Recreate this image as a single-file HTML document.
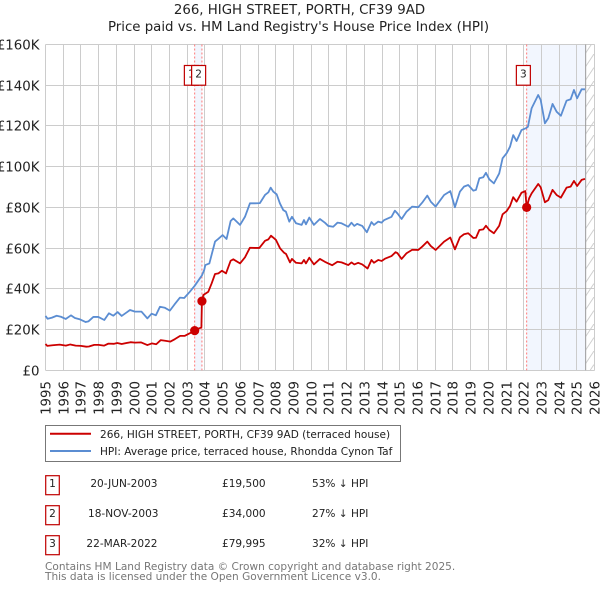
<!DOCTYPE html>
<html lang="en">
<head>
<meta charset="utf-8">
<title>266, HIGH STREET, PORTH, CF39 9AD</title>
<style>
html,body{margin:0;padding:0;background:#fff;}
body{width:600px;height:590px;overflow:hidden;}
svg{display:block;font-family:"DejaVu Sans","Liberation Sans",sans-serif;}
</style>
</head>
<body>
<svg id="chart" width="600" height="590" viewBox="0 0 600 590" xmlns="http://www.w3.org/2000/svg">
  <defs>
    <pattern id="hatch" patternUnits="userSpaceOnUse" width="9" height="13.5">
      <line x1="0" y1="13.5" x2="9" y2="0" stroke="#cfcfcf" stroke-width="1"/>
    </pattern>
  </defs>
  <text x="299.5" y="14" text-anchor="middle" font-size="13.33" fill="#222">266, HIGH STREET, PORTH, CF39 9AD</text>
  <text x="298.5" y="31" text-anchor="middle" font-size="13.33" fill="#222">Price paid vs. HM Land Registry's House Price Index (HPI)</text>
  <g id="bands"></g>
  <g id="grid"></g>
  <g id="yaxis"></g>
  <g id="xaxis"></g>
  <g id="series"></g>
  <g id="sales"></g>

  <rect x="45.5" y="425.5" width="355" height="36" fill="#fff" stroke="#777" stroke-width="1"/>
  <line x1="50" x2="91" y1="433.8" y2="433.8" stroke="#cc0000" stroke-width="2"/>
  <line x1="50" x2="91" y1="451" y2="451" stroke="#5b8dd2" stroke-width="2"/>
  <text x="100" y="438" font-size="10.55" fill="#222">266, HIGH STREET, PORTH, CF39 9AD (terraced house)</text>
  <text x="100" y="455" font-size="10.55" fill="#222">HPI: Average price, terraced house, Rhondda Cynon Taf</text>

  <g>
    <rect x="45.7" y="475.7" width="13.6" height="19" fill="#fff" stroke="#c00000" stroke-width="1.2"/>
    <text x="52.5" y="487" text-anchor="middle" font-size="10.55" fill="#222">1</text>
    <text x="157.5" y="487" text-anchor="end" font-size="10.55" fill="#222">20-JUN-2003</text>
    <text x="222" y="487" font-size="10.55" fill="#222">£19,500</text>
    <text x="312" y="487" font-size="10.55" fill="#222">53% ↓ HPI</text>
  </g>
  <g>
    <rect x="45.7" y="505.7" width="13.6" height="19" fill="#fff" stroke="#c00000" stroke-width="1.2"/>
    <text x="52.5" y="517" text-anchor="middle" font-size="10.55" fill="#222">2</text>
    <text x="158.5" y="517" text-anchor="end" font-size="10.55" fill="#222">18-NOV-2003</text>
    <text x="222" y="517" font-size="10.55" fill="#222">£34,000</text>
    <text x="312" y="517" font-size="10.55" fill="#222">27% ↓ HPI</text>
  </g>
  <g>
    <rect x="45.7" y="535.7" width="13.6" height="19" fill="#fff" stroke="#c00000" stroke-width="1.2"/>
    <text x="52.5" y="547" text-anchor="middle" font-size="10.55" fill="#222">3</text>
    <text x="157.5" y="547" text-anchor="end" font-size="10.55" fill="#222">22-MAR-2022</text>
    <text x="222" y="547" font-size="10.55" fill="#222">£79,995</text>
    <text x="312" y="547" font-size="10.55" fill="#222">32% ↓ HPI</text>
  </g>

  <text x="45" y="570" font-size="10.55" fill="#777">Contains HM Land Registry data © Crown copyright and database right 2025.</text>
  <text x="45" y="580" font-size="10.55" fill="#777">This data is licensed under the Open Government Licence v3.0.</text>
</svg>

<script>
const yearTicks = [1995,1996,1997,1998,1999,2000,2001,2002,2003,2004,2005,2006,2007,2008,2009,2010,2011,2012,2013,2014,2015,2016,2017,2018,2019,2020,2021,2022,2023,2024,2025,2026];
const priceTicks = [0,20,40,60,80,100,120,140,160];
const priceTickLabels = ['£0','£20K','£40K','£60K','£80K','£100K','£120K','£140K','£160K'];

const hpiDates = [1995,1995.12,1995.35,1995.63,1995.87,1996.14,1996.44,1996.66,1996.95,1997.27,1997.42,1997.7,1997.98,1998.32,1998.58,1998.83,1999.07,1999.3,1999.77,2000.05,2000.42,2000.75,2000.99,2001.23,2001.46,2001.74,2002.02,2002.27,2002.59,2002.83,2003.15,2003.42,2003.66,2003.83,2003.96,2004.02,2004.25,2004.57,2004.75,2005,2005.22,2005.45,2005.6,2005.98,2006.26,2006.54,2006.82,2007.1,2007.39,2007.58,2007.71,2007.86,2008.05,2008.23,2008.42,2008.57,2008.76,2008.91,2009.14,2009.46,2009.59,2009.7,2009.89,2010.15,2010.49,2010.77,2010.96,2011.24,2011.48,2011.71,2012.09,2012.27,2012.43,2012.59,2012.88,2013.14,2013.4,2013.54,2013.78,2013.97,2014.12,2014.53,2014.72,2014.87,2015.1,2015.38,2015.7,2016.04,2016.26,2016.55,2016.75,2017.02,2017.5,2017.85,2018.11,2018.39,2018.62,2018.86,2019.15,2019.3,2019.49,2019.71,2019.86,2020.05,2020.31,2020.61,2020.8,2021.03,2021.22,2021.4,2021.59,2021.87,2022.12,2022.23,2022.44,2022.81,2022.95,2023.19,2023.38,2023.62,2023.85,2024.09,2024.41,2024.64,2024.83,2025.01,2025.26,2025.45];
const hpiValues = [26.7,25.3,25.8,26.8,26.3,25.2,27,25.7,25,23.7,24,26.2,26.2,24.7,28,26.8,28.6,26.7,29.6,28.8,28.8,25.5,27.8,27,31.2,30.7,29.3,32.2,35.7,35.5,38.6,41.5,44.5,46.6,49.3,51.7,52.5,63.2,64.5,66.4,64.5,73.3,74.6,71.4,75.4,82,82,82.1,86.1,87.4,89.7,87.7,86.4,82,78.7,77.9,73,75.4,72.2,71.4,73.8,71.7,75,71.4,74.3,72.5,70.9,70.5,72.5,72.2,70.5,72.5,70.9,71.9,70.9,67.8,72.8,71.4,73,72.5,73.8,75.4,78.4,77,74.3,77.9,80.4,80.1,82.3,85.8,82.8,80.4,86.1,88,80.1,87.7,90.2,91,88.2,88.6,94.3,94.8,97,93.8,91.8,96.7,104.1,106.6,109.8,115.5,112.6,118,118.9,119.6,128.7,135.2,132.8,121.3,123.8,130.8,127,125,132.4,133.1,137.7,133.6,138,138];

const paidDates = [1995,1995.1,1995.4,1995.8,1996.15,1996.4,1996.7,1997,1997.3,1997.45,1997.75,1998,1998.3,1998.55,1998.85,1999.05,1999.3,1999.8,2000.05,2000.4,2000.75,2001,2001.25,2001.5,2001.75,2002.05,2002.3,2002.6,2002.85,2003.15,2003.42,2003.6,2003.8,2003.83,2003.91,2004.19,2004.38,2004.57,2004.76,2004.96,2005.19,2005.45,2005.6,2005.98,2006.26,2006.54,2006.82,2007.07,2007.39,2007.58,2007.73,2008.01,2008.24,2008.46,2008.58,2008.8,2008.91,2009.14,2009.46,2009.59,2009.7,2009.89,2010.15,2010.49,2010.77,2010.96,2011.18,2011.48,2011.71,2012.09,2012.27,2012.43,2012.65,2012.88,2013.18,2013.4,2013.54,2013.78,2013.97,2014.16,2014.53,2014.76,2014.87,2015.1,2015.38,2015.7,2016.04,2016.26,2016.55,2016.75,2017.02,2017.5,2017.85,2018.11,2018.39,2018.62,2018.86,2019.15,2019.3,2019.49,2019.71,2019.86,2020.05,2020.31,2020.61,2020.8,2021.03,2021.22,2021.4,2021.59,2021.87,2022.08,2022.16,2022.3,2022.44,2022.81,2022.95,2023.19,2023.38,2023.62,2023.85,2024.09,2024.41,2024.64,2024.83,2025.01,2025.26,2025.45];
const paidValues = [12.9,12,12.3,12.6,12.1,12.7,12.1,12,11.6,11.7,12.5,12.5,12.1,13.1,13,13.4,12.9,13.8,13.6,13.7,12.4,13.2,12.8,14.8,14.5,14.1,15.3,16.9,16.9,18.2,19.5,20.4,21,34,37,38.6,42.7,47.3,47.6,48.9,47.6,53.8,54.5,52.5,55.5,60.2,60.1,60.1,63.6,64.3,66.1,64,59.9,57.8,57.1,53,54.7,52.8,52.5,54.2,52.5,55.3,52,54.7,53.3,52.5,51.6,53.3,53,51.7,53,52,52.8,52,50,54.2,52.8,54.2,53.7,54.8,56.1,58,57.5,54.7,57.5,59.2,59.1,60.7,63.2,61,59.1,63.2,65.2,59.4,65.3,66.8,67.3,65,65.1,68.9,69.2,71,68.9,67.3,71,76.6,78.2,80.7,85,82.8,87.2,88,80,84.5,86.9,91.5,89.9,82.5,83.6,88.6,86.1,84.8,89.7,90.2,93,90.5,93.5,94];

const saleLabels = ['1','2','3'];
const saleDates = [2003.42,2003.83,2022.16];
const salePrices = [19.5,34,79.995];
const shadeRanges = [[2003.42,2003.83],[2022.16,2025.49]];
const dataEndDate = 2025.49;

const NS = 'http://www.w3.org/2000/svg';
const plotLeft = 45.5, plotRight = 594.7, plotTop = 44.5, plotBottom = 370.3;
const xMin = 1995, xMax = 2026, yMin = 0, yMax = 160;

function xScale(d){ return plotLeft + (d - xMin) / (xMax - xMin) * (plotRight - plotLeft); }
function yScale(v){ return plotBottom - (v - yMin) / (yMax - yMin) * (plotBottom - plotTop); }
function make(tag, attrs, parent){
  const el = document.createElementNS(NS, tag);
  for (const k in attrs) el.setAttribute(k, attrs[k]);
  parent.appendChild(el);
  return el;
}
function linePath(dates, values){
  return dates.map(function(d, i){
    return (i ? 'L' : 'M') + xScale(d).toFixed(2) + ' ' + yScale(values[i]).toFixed(2);
  }).join('');
}

const bands = document.getElementById('bands');
const grid = document.getElementById('grid');
const yaxis = document.getElementById('yaxis');
const xaxis = document.getElementById('xaxis');
const series = document.getElementById('series');
const sales = document.getElementById('sales');

shadeRanges.forEach(function(r){
  const b = make('rect', {x: xScale(r[0]), y: plotTop, width: xScale(r[1]) - xScale(r[0]), height: plotBottom - plotTop, fill: '#f2f6fe'}, bands);
  
  
});
const hatchArea = make('rect', {x: xScale(dataEndDate), y: plotTop, width: plotRight - xScale(dataEndDate), height: plotBottom - plotTop, fill: 'url(#hatch)'}, bands);



yearTicks.forEach(function(y){
  const px = Math.floor(xScale(y)) + 0.5;
  const g = make('line', {x1: px, x2: px, y1: plotTop, y2: plotBottom, stroke: '#cccccc', 'stroke-width': 1}, grid);
  
  
  const t = make('text', {transform: 'translate(' + (px + 4.8) + ',381) rotate(-90)', 'text-anchor': 'end', 'font-size': 13.33, fill: '#222'}, xaxis);
  t.textContent = String(y);
  
  
});
priceTicks.forEach(function(v, i){
  const py = Math.floor(yScale(v)) + 0.5;
  const g = make('line', {x1: plotLeft, x2: plotRight, y1: py, y2: py, stroke: '#cccccc', 'stroke-width': 1}, grid);
  
  
  const t = make('text', {x: 39.5, y: py + 4.8, 'text-anchor': 'end', 'font-size': 13.33, fill: '#222'}, yaxis);
  t.textContent = priceTickLabels[i];
  
  
});

const endLine = make('line', {x1: xScale(dataEndDate), x2: xScale(dataEndDate), y1: plotTop, y2: plotBottom, stroke: '#999999', 'stroke-width': 1}, grid);



saleDates.forEach(function(d){
  const l = make('line', {x1: xScale(d), x2: xScale(d), y1: plotTop, y2: plotBottom, stroke: '#ff7777', 'stroke-width': 1, 'stroke-dasharray': '2,2'}, grid);
  
  
});

const hpiLine = make('path', {d: linePath(hpiDates, hpiValues), fill: 'none', stroke: '#5b8dd2', 'stroke-width': 1.8, 'stroke-linejoin': 'round'}, series);


const paidLine = make('path', {d: linePath(paidDates, paidValues), fill: 'none', stroke: '#cc0000', 'stroke-width': 1.8, 'stroke-linejoin': 'round'}, series);



saleDates.forEach(function(d, i){
  const c = make('circle', {cx: xScale(d), cy: yScale(salePrices[i]), r: 4.6, fill: '#cc0000'}, sales);
  
  
  const bx = xScale(d) - 10.3;
  const box = make('rect', {x: bx, y: 65.5, width: 14, height: 19.7, fill: '#fff', stroke: '#c00000', 'stroke-width': 1.2}, sales);
  
  
  const t = make('text', {x: bx + 7, y: 77.5, 'text-anchor': 'middle', 'font-size': 10.55, fill: '#222'}, sales);
  t.textContent = saleLabels[i];
  
  
});
</script>
</body>
</html>
